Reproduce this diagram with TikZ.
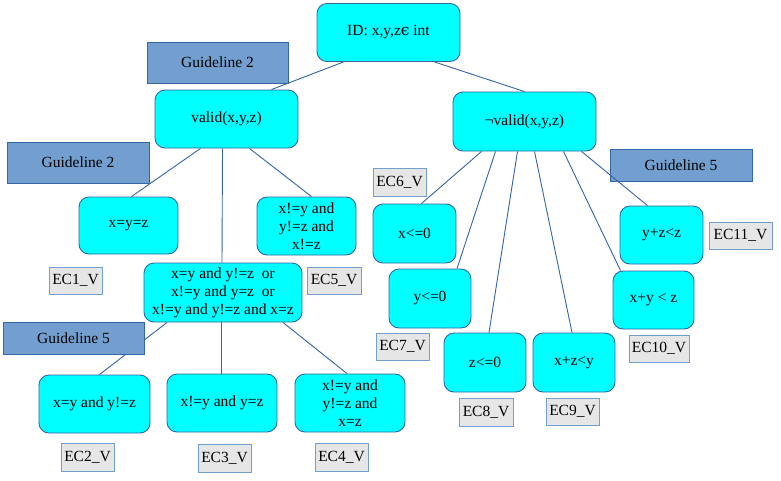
\documentclass[tikz,border=0pt]{standalone}
\usepackage{fontspec}
\setmainfont{Liberation Serif}
\newfontfamily\dvfont{DejaVu Serif}
\usetikzlibrary{positioning}
\definecolor{cyanfill}{HTML}{00FFFF}
\definecolor{edgeblue}{HTML}{3465A4}
\definecolor{guidefill}{HTML}{729FCF}
\definecolor{ecfill}{HTML}{E6E6E6}
\definecolor{ecedge}{HTML}{729FCF}
\pgfdeclarelayer{bg}
\pgfsetlayers{bg,main}
\tikzset{
  every node/.style={font=\fontsize{15.5}{18.2}\selectfont, inner sep=0pt, align=center},
  cbox/.style={draw=edgeblue, fill=cyanfill, rounded corners=10pt, line width=0.9pt},
  gbox/.style={draw=edgeblue, fill=guidefill, line width=0.9pt},
  ecbox/.style={draw=ecedge, fill=ecfill, line width=1pt},
  conn/.style={draw=edgeblue, line width=0.9pt},
  sz/.style 2 args={minimum width=#1pt, minimum height=#2pt}
}
\begin{document}
\begin{tikzpicture}[x=1pt,y=-1pt]
\begin{pgfonlayer}{bg}
\fill[white] (0,0) rectangle (781,480);
\end{pgfonlayer}
\useasboundingbox (0,0) rectangle (781,480);

% main nodes
\node[cbox, sz={143}{58}] (id) at (388.5,32.5) {ID: x,y,z{\dvfont ϵ} int};
\node[cbox, sz={143}{58}] (valid) at (226.5,119) {valid(x,y,z)};
\node[cbox, sz={143}{59}] (nvalid) at (524.5,121.5) {¬valid(x,y,z)};

\node[cbox, sz={99}{57}] (xyz) at (128.5,225.5) {x=y=z};
\node[cbox, sz={99}{58}] (neq) at (306.5,226) {x!=y and\\y!=z and\\x!=z};
\node[cbox, sz={158}{59}] (mid) at (223,292.5) {x=y and y!=z~ or\\x!=y and y=z~ or\\x!=y and y!=z and x=z};

\node[cbox, sz={111}{58}] (c2) at (94.5,404) {x=y and y!=z};
\node[cbox, sz={110}{58}] (c3) at (222,403) {x!=y and y=z};
\node[cbox, sz={110}{58}] (c4) at (350,403) {x!=y and\\y!=z and\\x=z};

\node[cbox, sz={83}{59}] (xle) at (414.5,233.5) {x<=0};
\node[cbox, sz={82}{59}] (yle) at (430,298.5) {y<=0};
\node[cbox, sz={82}{59}] (zle) at (485,362.5) {z<=0};
\node[cbox, sz={82}{59}] (xzy) at (574,362.5) {x+z<y};
\node[cbox, sz={81}{58}] (xyz2) at (653.5,300) {x+y < z};
\node[cbox, sz={83}{58}] (yzz) at (661.5,235) {y+z<z};

% guideline boxes
\node[gbox, sz={141}{41}] (g2a) at (217.5,62.5) {Guideline 2};
\node[gbox, sz={142}{41}] (g2b) at (78,162.5) {Guideline 2};
\node[gbox, sz={141}{32}] (g5a) at (73.5,338) {Guideline 5};
\node[gbox, sz={142}{32}] (g5b) at (681,165) {Guideline 5};

% EC labels
\node[ecbox, sz={53}{27}] (ec1) at (75.5,280.5) {EC1\_V};
\node[ecbox, sz={53}{28}] (ec2) at (87.5,457) {EC2\_V};
\node[ecbox, sz={53}{28}] (ec3) at (224.5,458) {EC3\_V};
\node[ecbox, sz={53}{28}] (ec4) at (341.5,457) {EC4\_V};
\node[ecbox, sz={54}{27}] (ec5) at (334,280.5) {EC5\_V};
\node[ecbox, sz={53}{28}] (ec6) at (399.5,182) {EC6\_V};
\node[ecbox, sz={53}{27}] (ec7) at (402.5,346.5) {EC7\_V};
\node[ecbox, sz={54}{28}] (ec8) at (486,412) {EC8\_V};
\node[ecbox, sz={53}{27}] (ec9) at (572.5,411.5) {EC9\_V};
\node[ecbox, sz={60}{27}] (ec10) at (659,348.5) {EC10\_V};
\node[ecbox, sz={63}{27}] (ec11) at (740.5,235.5) {EC11\_V};

% connectors
\begin{pgfonlayer}{bg}
\draw[conn] ([xshift=-45pt]id.south) -- ([xshift=45pt]valid.north);
\draw[conn] ([xshift=46pt]id.south) -- (nvalid.north);

\draw[conn] ([xshift=-26pt]valid.south) -- ([xshift=3pt]xyz.north);
\draw[conn] ([xshift=-4pt]valid.south) -- ([xshift=-1pt]mid.north);
\draw[conn] ([xshift=23pt]valid.south) -- ([xshift=5pt]neq.north);

\draw[conn] ([xshift=-56pt]mid.south) -- ([xshift=5pt]c2.north);
\draw[conn] ([xshift=-2pt]mid.south) -- ([xshift=-1pt]c3.north);
\draw[conn] ([xshift=60pt]mid.south) -- ([xshift=-3pt]c4.north);

\draw[conn] ([xshift=-43pt]nvalid.south) -- ([xshift=7pt]xle.north);
\draw[conn] ([xshift=-29pt]nvalid.south) -- ([xshift=27pt]yle.north);
\draw[conn] ([xshift=-7pt]nvalid.south) -- ([xshift=4pt]zle.north);
\draw[conn] ([xshift=10pt]nvalid.south) -- ([xshift=-2pt]xzy.north);
\draw[conn] ([xshift=39pt]nvalid.south) -- ([xshift=-33pt]xyz2.north);
\end{pgfonlayer}
% this one runs over the Guideline 5 box corner
\draw[conn] ([xshift=57pt]nvalid.south) -- ([xshift=-14pt]yzz.north);
\end{tikzpicture}
\end{document}
